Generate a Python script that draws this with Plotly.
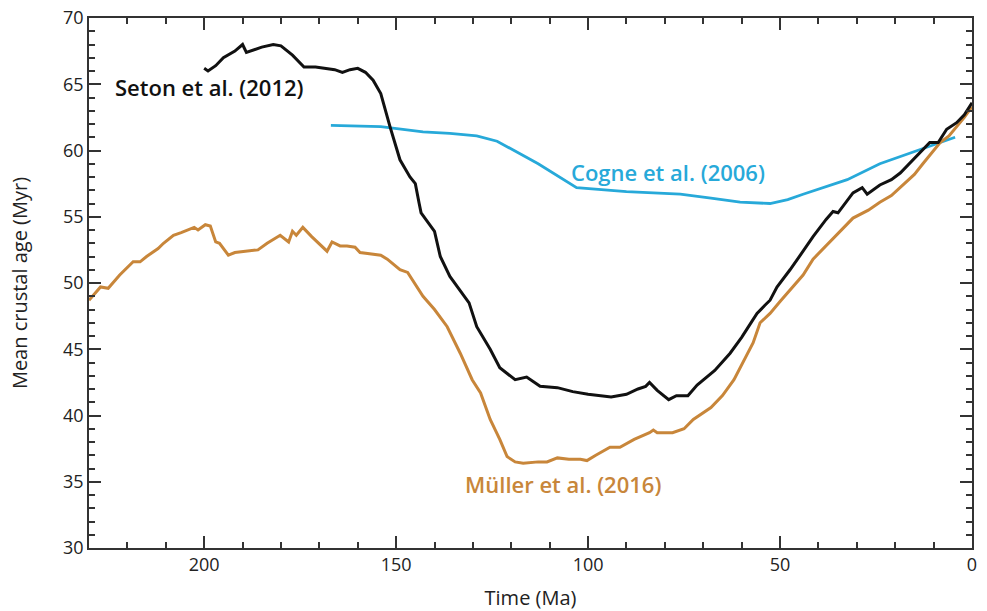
import plotly.graph_objects as go

# Seton et al. (2012)
seton_t = [200, 199, 197, 195, 192, 190, 189, 187, 185, 182, 180, 177, 174, 171, 168, 166, 164, 162, 160, 158,
           156, 154, 151.6, 149, 146.4, 145, 144, 143.5, 140, 138.5, 136, 131, 129, 125.5, 123, 120, 119, 116,
           112.5, 108, 104, 100, 96, 94, 90, 87, 85, 84, 82, 79, 77, 74, 71.6, 70, 67, 63, 60, 58, 56, 54, 52.6,
           50.8, 47.4, 44, 41.4, 38, 36.2, 34.9, 33, 31, 28.6, 27.3, 24, 21, 18.7, 15.3, 13, 11, 8.8, 6.6, 4, 2, 0]
seton_age = [66.2, 66.0, 66.4, 67.0, 67.5, 68.0, 67.4, 67.6, 67.8, 68.0, 67.9, 67.2, 66.3, 66.3, 66.2, 66.1, 65.9,
             66.1, 66.2, 65.9, 65.3, 64.3, 61.8, 59.3, 58.0, 57.5, 56.0, 55.3, 53.9, 52.0, 50.5, 48.5, 46.7, 45.0,
             43.6, 42.9, 42.7, 42.9, 42.2, 42.1, 41.8, 41.6, 41.5, 41.4, 41.6, 42.0, 42.2, 42.5, 41.9, 41.2, 41.5,
             41.5, 42.3, 42.7, 43.4, 44.7, 45.9, 46.8, 47.7, 48.3, 48.7, 49.7, 51.0, 52.4, 53.5, 54.8, 55.4, 55.3,
             56.0, 56.8, 57.2, 56.7, 57.4, 57.8, 58.3, 59.3, 60.0, 60.6, 60.6, 61.6, 62.1, 62.7, 63.6]

# Müller et al. (2016)
muller_t = [230, 227, 225, 222, 218.5, 216.7, 215, 212, 210.6, 208, 206, 202.6, 201.6, 199.7, 198.4, 197, 196,
            193.7, 192, 189, 186, 183.6, 180.2, 178, 177, 176, 174.3, 172, 169.8, 168, 166.7, 164.6, 162.8, 160.7,
            159.4, 156, 154, 152.3, 149, 147, 143, 140, 136.7, 133.3, 130.2, 128, 125.5, 123, 121.1, 119, 116.9,
            113, 110.7, 108, 105, 102, 100.3, 98, 94.3, 91.7, 88, 84, 83, 82, 78, 75, 72.6, 68, 65, 62, 60, 57,
            55.2, 52.6, 50, 47.4, 44, 41.4, 38, 36.2, 33, 31, 27, 24, 21, 18.7, 15, 12.8, 10, 8.3, 6, 4, 2, 0]
muller_age = [48.7, 49.7, 49.6, 50.6, 51.6, 51.6, 52.0, 52.6, 53.0, 53.6, 53.8, 54.2, 54.0, 54.4, 54.3, 53.1, 53.0,
              52.1, 52.3, 52.4, 52.5, 53.0, 53.6, 53.1, 53.9, 53.6, 54.2, 53.5, 52.9, 52.4, 53.1, 52.8, 52.8, 52.7,
              52.3, 52.2, 52.1, 51.8, 51.0, 50.8, 49.0, 48.0, 46.7, 44.7, 42.7, 41.7, 39.7, 38.2, 36.9, 36.5, 36.4,
              36.5, 36.5, 36.8, 36.7, 36.7, 36.6, 37.0, 37.6, 37.6, 38.2, 38.7, 38.9, 38.7, 38.7, 39.0, 39.7, 40.6,
              41.5, 42.7, 43.8, 45.5, 47.0, 47.7, 48.6, 49.5, 50.6, 51.8, 52.8, 53.4, 54.3, 54.9, 55.5, 56.1, 56.6,
              57.2, 58.2, 59.0, 60.0, 60.6, 61.1, 61.8, 62.5, 63.3]

# Cogne et al. (2006)
cogne_t = [167, 154, 143, 136, 129, 125, 123.7, 113, 103, 90, 76, 68, 60.4, 52.6, 48, 44, 37.8, 32.5, 24, 15.4, 4.4]
cogne_age = [61.9, 61.8, 61.4, 61.3, 61.1, 60.8, 60.7, 59.0, 57.2, 56.9, 56.7, 56.4, 56.1, 56.0, 56.3, 56.7, 57.3,
             57.8, 59.0, 59.9, 61.0]

x_ticks = [200, 150, 100, 50, 0]
y_ticks = [30, 35, 40, 45, 50, 55, 60, 65, 70]
x_range = [230, 0]
y_range = [30, 70]

BLACK = "#111111"
ORANGE = "#c8863a"
BLUE = "#27a9d9"
AXC = "#333333"
FONT = "Open Sans"

fig = go.Figure()
fig.add_trace(go.Scatter(x=cogne_t, y=cogne_age, mode="lines", line=dict(color=BLUE, width=2.8)))
fig.add_trace(go.Scatter(x=muller_t, y=muller_age, mode="lines", line=dict(color=ORANGE, width=3)))
fig.add_trace(go.Scatter(x=seton_t, y=seton_age, mode="lines", line=dict(color=BLACK, width=3)))

labels = [
    ("Seton et al. (2012)", 198.7, 64.8, BLACK),
    ("Cogne et al. (2006)", 79.2, 58.4, BLUE),
    ("Müller et al. (2016)", 106.5, 34.8, ORANGE),
]
for txt, x, y, c in labels:
    fig.add_annotation(x=x, y=y, text=txt, showarrow=False,
                       font=dict(family=FONT, size=22, color=c, weight=600))

axis_common = dict(
    showgrid=False, zeroline=False, showline=True, linecolor=AXC, linewidth=1.5,
    mirror=True, ticks="inside", tickcolor=AXC, tickwidth=1.5, ticklen=12,
    tickfont=dict(family=FONT, size=18, color="#222222"), automargin=False,
)
minor_x = dict(dtick=10, tick0=0, ticks="inside", ticklen=6, tickcolor=AXC, tickwidth=1.5)
minor_y = dict(dtick=1, tick0=0, ticks="inside", ticklen=6, tickcolor=AXC, tickwidth=1.5)

fig.update_layout(
    width=987, height=611, showlegend=False,
    plot_bgcolor="white", paper_bgcolor="white",
    margin=dict(l=89, r=15, t=18, b=63),
    xaxis=dict(range=x_range, tickvals=x_ticks, minor=minor_x,
               title=dict(text="Time (Ma)", font=dict(family=FONT, size=20, color="#222222"), standoff=16),
               **axis_common),
    yaxis=dict(range=y_range, tickvals=y_ticks, minor=minor_y,
               title=dict(text="Mean crustal age (Myr)", font=dict(family=FONT, size=20, color="#222222"), standoff=30),
               **axis_common),
    xaxis2=dict(range=x_range, tickvals=x_ticks, minor=minor_x, overlaying="x", side="top",
                showticklabels=False, showgrid=False, zeroline=False, showline=False, automargin=False,
                ticks="inside", tickcolor=AXC, tickwidth=1.5, ticklen=12, anchor="y"),
    yaxis2=dict(range=y_range, tickvals=y_ticks, minor=minor_y, overlaying="y", side="right",
                showticklabels=False, showgrid=False, zeroline=False, showline=False, automargin=False,
                ticks="inside", tickcolor=AXC, tickwidth=1.5, ticklen=12, anchor="x"),
)
# invisible trace to activate the mirrored tick axes
fig.add_trace(go.Scatter(x=[None], y=[None], xaxis="x2", yaxis="y2", mode="lines", hoverinfo="skip"))
fig.write_html("out.html")
